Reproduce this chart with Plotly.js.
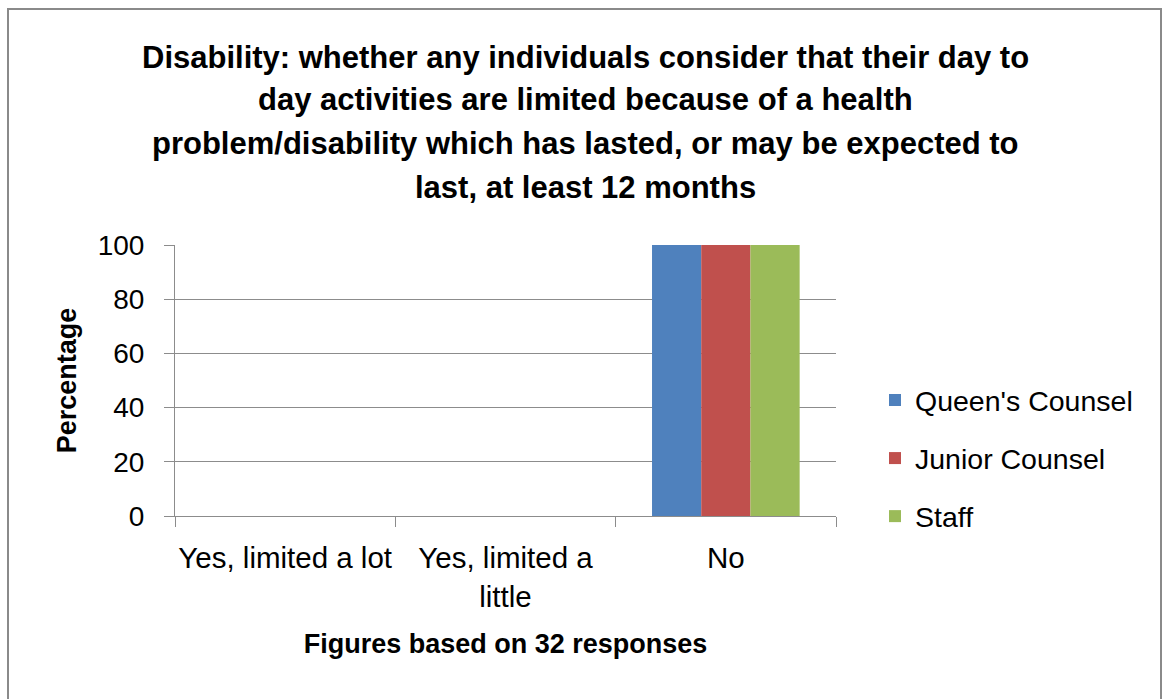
<!DOCTYPE html>
<html>
<head>
<meta charset="utf-8">
<script src="https://cdn.plot.ly/plotly-3.0.1.min.js"></script>
<style>
html,body{margin:0;padding:0;background:#fff;}
#chart{width:1163px;height:699px;}
</style>
</head>
<body>
<div id="chart"></div>
<script>
// ---- data ----
const categories = ["Yes, limited a lot", "Yes, limited a little", "No"];
const tickLabels = ["Yes, limited a lot", "Yes, limited a<br>little", "No"];
const seriesNames = ["Queen's Counsel", "Junior Counsel", "Staff"];
const queensCounsel = [0, 0, 100];
const juniorCounsel = [0, 0, 100];
const staff = [0, 0, 100];
const yTicks = [0, 20, 40, 60, 80, 100];
const titleLines = [
  "Disability: whether any individuals consider that their day to",
  "day activities are limited because of a health",
  "problem/disability which has lasted, or may be expected to",
  "last, at least 12 months"
];
const xTitle = "Figures based on 32 responses";
const yTitle = "Percentage";

// ---- layout helpers ----
const W = 1163, H = 699;
const L = 175, R = 836, T = 245, B = 516;
const px2x = p => (p - L) / (R - L);
const py2y = p => (B - p) / (B - T);

const FONT = "'Liberation Sans Narrow', 'Arial Narrow', 'Liberation Sans', Arial, sans-serif";
const colors = ["#4f81bd", "#c0504d", "#9bbb59"];
const values = [queensCounsel, juniorCounsel, staff];

const traces = seriesNames.map((n, i) => ({
  type: "bar",
  name: n,
  x: categories,
  y: values[i],
  marker: {color: colors[i], line: {width: 0}},
  legendgroup: "g" + i,
  hoverinfo: "x+y+name"
}));

const titleY = [57, 100, 143, 187];
const annotations = titleLines.map((t, i) => ({
  text: "<b>" + t + "</b>",
  xref: "paper", yref: "paper",
  x: px2x(585), y: py2y(titleY[i]),
  xanchor: "center", yanchor: "middle",
  showarrow: false,
  font: {family: FONT, size: 31, color: "#000"}
}));

const layout = {
  width: W, height: H,
  margin: {l: L, r: W - R, t: T, b: H - B, pad: 0},
  paper_bgcolor: "#fff",
  plot_bgcolor: "#fff",
  showlegend: true,
  barmode: "group",
  bargap: 0.33,
  bargroupgap: 0,
  font: {family: FONT, size: 28, color: "#000"},
  xaxis: {
    type: "category",
    tickmode: "array",
    tickvals: categories,
    ticktext: tickLabels,
    tickson: "boundaries",
    tickangle: 0,
    ticks: "outside",
    ticklen: 10,
    tickcolor: "#8c8c8c",
    tickwidth: 1,
    showline: true,
    linecolor: "#8c8c8c",
    linewidth: 1,
    showgrid: false,
    zeroline: false,
    ticklabelstandoff: 16,
    tickfont: {family: FONT, size: 29.5, color: "#000"},
    title: {text: "<b>" + xTitle + "</b>", font: {family: FONT, size: 27, color: "#000"}, standoff: 22},
    automargin: false,
    fixedrange: true
  },
  yaxis: {
    range: [0, 100],
    tickmode: "array",
    tickvals: yTicks,
    ticktext: yTicks.map(String),
    ticks: "outside",
    ticklen: 10,
    tickcolor: "#8c8c8c",
    tickwidth: 1,
    showline: true,
    linecolor: "#8c8c8c",
    linewidth: 1,
    showgrid: true,
    gridcolor: "#8c8c8c",
    gridwidth: 1,
    zeroline: false,
    ticklabelstandoff: 14,
    tickfont: {family: FONT, size: 28, color: "#000"},
    title: {text: "<b>" + yTitle + "</b>", font: {family: FONT, size: 27, color: "#000"}, standoff: 13},
    automargin: false,
    fixedrange: true
  },
  legend: {
    x: px2x(875), y: py2y(375),
    xanchor: "left", yanchor: "top",
    bgcolor: "rgba(0,0,0,0)",
    borderwidth: 0,
    traceorder: "grouped",
    tracegroupgap: 18,
    font: {family: FONT, size: 28.5, color: "#000"},
    itemclick: false, itemdoubleclick: false
  },
  annotations: annotations,
  shapes: [{
    type: "rect", xref: "paper", yref: "paper",
    x0: px2x(8), x1: px2x(1161), y0: py2y(712), y1: py2y(9),
    line: {color: "#8a8a8a", width: 2},
    fillcolor: "rgba(0,0,0,0)",
    layer: "below"
  }]
};

Plotly.newPlot("chart", traces, layout, {displayModeBar: false, staticPlot: false});
</script>
</body>
</html>
